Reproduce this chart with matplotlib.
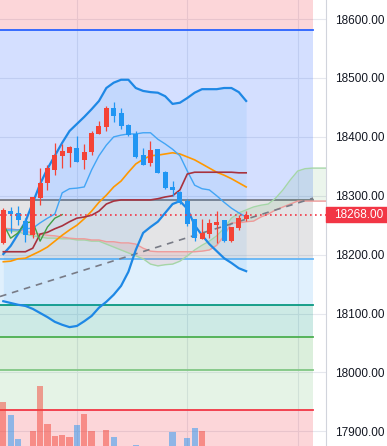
import matplotlib
matplotlib.use('Agg')
import matplotlib.pyplot as plt
import matplotlib.transforms as mtransforms
from matplotlib.patches import Rectangle
import numpy as np

# candles (red = up, blue = down)
opens  = [18220, 18274, 18271, 18257, 18233, 18296, 18322, 18344, 18368, 18373, 18381, 18361, 18374, 18405, 18417, 18449, 18441,
          18420, 18405, 18369, 18356, 18379, 18340, 18315, 18306, 18291, 18261, 18227, 18235, 18250, 18259, 18223, 18245, 18261]
highs  = [18279, 18281, 18283, 18262, 18298, 18347, 18352, 18390, 18388, 18385, 18402, 18388, 18410, 18427, 18452, 18459, 18449,
          18422, 18410, 18381, 18393, 18379, 18342, 18325, 18308, 18295, 18261, 18261, 18261, 18274, 18259, 18247, 18267, 18274]
lows   = [18218, 18237, 18250, 18222, 18228, 18284, 18310, 18335, 18347, 18349, 18357, 18346, 18369, 18405, 18410, 18425, 18413,
          18402, 18364, 18352, 18351, 18339, 18311, 18300, 18286, 18249, 18223, 18227, 18228, 18220, 18222, 18222, 18242, 18257]
closes = [18276, 18269, 18259, 18233, 18298, 18322, 18347, 18369, 18376, 18383, 18357, 18374, 18407, 18419, 18449, 18436, 18419,
          18403, 18366, 18352, 18378, 18339, 18313, 18310, 18288, 18252, 18228, 18237, 18254, 18256, 18223, 18247, 18262, 18268]
volume = [4400, 3100, 700, 0, 1500, 6000, 2200, 1000, 1100, 900, 2100, 3200, 1500, 0, 1600, 900, 0,
          0, 100, 0, 0, 0, 0, 1400, 0, 800, 1800, 1500, 0, 0, 0, 0, 0, 0]

# bollinger bands (outer)
bb_upper = [18201, 18215, 18235, 18256, 18288, 18320, 18346, 18368, 18390, 18410, 18422, 18434, 18447, 18461, 18483, 18492, 18497,
            18497, 18483, 18478, 18476, 18475, 18469, 18456, 18458, 18466, 18475, 18481, 18481, 18481, 18483, 18483, 18476, 18461]
bb_lower = [18121, 18118, 18115, 18113, 18108, 18101, 18094, 18086, 18081, 18077, 18079, 18087, 18096, 18110, 18120, 18132, 18147,
            18171, 18208, 18237, 18247, 18256, 18271, 18286, 18291, 18278, 18250, 18233, 18218, 18206, 18194, 18186, 18177, 18172]
# moving average
ma_line = [18188, 18189, 18193, 18194, 18200, 18206, 18213, 18223, 18233, 18242, 18250, 18261, 18274, 18289, 18301, 18315, 18325,
           18340, 18354, 18362, 18368, 18369, 18371, 18373, 18371, 18366, 18361, 18354, 18347, 18340, 18335, 18329, 18322, 18315]

# ichimoku
tenkan = [18242, 18242, 18242, 18244, 18245, 18254, 18262, 18269, 18305, 18312, 18313, 18315, 18344, 18368, 18386, 18400, 18403,
          18405, 18405, 18407, 18407, 18396, 18388, 18379, 18368, 18342, 18318, 18312, 18310, 18300, 18289, 18279, 18271, 18264]
kijun = [18205, 18205, 18205, 18205, 18211, 18235, 18238, 18244, 18249, 18256, 18262, 18264, 18267, 18274, 18286, 18291, 18293,
         18293, 18293, 18293, 18293, 18295, 18298, 18300, 18310, 18337, 18340, 18340, 18340, 18340, 18340, 18340, 18339, 18339]
span_a = [18242, 18240, 18239, 18235, 18232, 18230, 18228, 18228, 18227, 18227, 18225, 18225, 18223, 18223, 18218, 18213, 18208,
          18203, 18198, 18193, 18184, 18181, 18183, 18184, 18189, 18198, 18208, 18216, 18223, 18232, 18245, 18262, 18271, 18276,
          18281, 18284, 18286, 18296, 18310, 18327, 18342, 18346, 18347, 18347, 18347]
span_b = [18245, 18244, 18242, 18240, 18237, 18235, 18233, 18232, 18230, 18228, 18227, 18227, 18225, 18225, 18222, 18222, 18220,
          18220, 18218, 18211, 18206, 18205, 18205, 18205, 18205, 18205, 18205, 18206, 18208, 18216, 18232, 18254, 18254, 18256,
          18257, 18264, 18269, 18276, 18281, 18286, 18291, 18291, 18291, 18291, 18291]
LAG = 25

# fibonacci retracement levels (price, colour)
fib_prices = [17827, 17937, 18005, 18060, 18115, 18193, 18293, 18581, 19047]
fib_colors = ['#787b86', '#f23645', '#81c784', '#4caf50', '#089981', '#64b5f6', '#787b86', '#2962ff', '#f23645']
fib_end = 42.1

# trend line
trend_x = [-0.45, 42.1]
trend_p = [18129, 18296]

last_price = closes[-1]
UP = '#f44336'
DOWN = '#2196f3'

fig = plt.figure(figsize=(3.87, 4.46), dpi=100)
ax = fig.add_axes([0, 0, 326 / 387, 1])
ax.set_xlim(-0.45, 43.85)
ax.set_ylim(17875.2, 18632.4)

idx = np.arange(len(closes))
fidx = np.arange(len(span_a))

# fib background
for k in range(len(fib_prices) - 1):
    ax.fill_between([-1, fib_end], fib_prices[k], fib_prices[k + 1], color=fib_colors[k + 1], alpha=0.2, lw=0, zorder=1)
for p, c in zip(fib_prices, fib_colors):
    ax.plot([-1, fib_end], [p, p], color=c, lw=1.3, zorder=2)

# bollinger fill
ax.fill_between(idx, bb_lower, bb_upper, color='#2196f3', alpha=0.09, lw=0, zorder=2)

# cloud
sa = np.array(span_a)
sb = np.array(span_b)
ax.fill_between(fidx, sa, sb, where=sa >= sb, interpolate=True, color='#43a047', alpha=0.1, lw=0, zorder=2)
ax.fill_between(fidx, sa, sb, where=sa < sb, interpolate=True, color='#f44336', alpha=0.1, lw=0, zorder=2)
ax.plot(fidx, span_a, color='#a5d6a7', lw=1, zorder=3)
ax.plot(fidx, span_b, color='#ef9a9a', lw=1, zorder=3)

ax.plot(trend_x, trend_p, color='#787b86', lw=1.2, ls=(0, (4, 3.5)), zorder=3)

ax.plot(idx, bb_upper, color='#1e88e5', lw=1.6, zorder=4)
ax.plot(idx, bb_lower, color='#1e88e5', lw=1.6, zorder=4)
ax.plot(idx, ma_line, color='#ff9800', lw=1.2, zorder=4)
ax.plot(idx, tenkan, color='#42a5f5', lw=1.0, zorder=4)
ax.plot(idx, kijun, color='#a8323e', lw=1.2, zorder=4)
ax.plot(idx[:-LAG], closes[LAG:], color='#43a047', lw=1.0, zorder=4)

# candles
colors = [UP if c >= o else DOWN for o, c in zip(opens, closes)]
ax.vlines(idx, lows, highs, colors=colors, lw=0.9, zorder=5)
bottoms = [min(o, c) for o, c in zip(opens, closes)]
heights = [max(abs(c - o), 1.5) for o, c in zip(opens, closes)]
ax.bar(idx, heights, bottom=bottoms, width=0.68, color=colors, lw=0, zorder=6)

ax.axhline(last_price, color='#f23645', lw=1.2, ls=(0, (1, 2)), zorder=7)

# volume overlay
vax = ax.twinx()
vax.set_ylim(0, 44600)
vax.bar(idx, volume, width=0.85, color=colors, alpha=0.5, lw=0)
vax.yaxis.set_visible(False)
for s in vax.spines.values():
    s.set_visible(False)

# axis styling (after twinx, which moves the ticks to the left)
ax.set_xticks([10, 25, 40])
ax.set_yticks(range(17900, 18601, 100))
ax.set_yticklabels(['%.2f' % v for v in range(17900, 18601, 100)])
ax.yaxis.tick_right()
ax.tick_params(axis='x', length=0, labelbottom=False)
ax.tick_params(axis='y', length=0, pad=6.5, labelsize=8.5, labelcolor='#131722')
for lab in ax.get_yticklabels():
    lab.set_fontfamily('Liberation Sans')
ax.grid(color='#e6e8ee', lw=0.8)
ax.set_axisbelow(True)
for s in ['top', 'left', 'bottom']:
    ax.spines[s].set_visible(False)
ax.spines['right'].set_visible(True)
ax.spines['right'].set_color('#d1d4dc')

# last price label on the price scale
trans = mtransforms.blended_transform_factory(ax.transAxes, ax.transData)
vax.add_patch(Rectangle((1.0, last_price - 12.7), 61 / 326, 25.4, transform=trans,
                        color='#f23645', clip_on=False, zorder=10))
vax.text(334 / 326, last_price, '%.2f' % last_price, transform=trans, color='white', fontsize=8.5,
         fontfamily='Liberation Sans', va='center', ha='left', zorder=11)

plt.savefig('out.png', dpi=100)
